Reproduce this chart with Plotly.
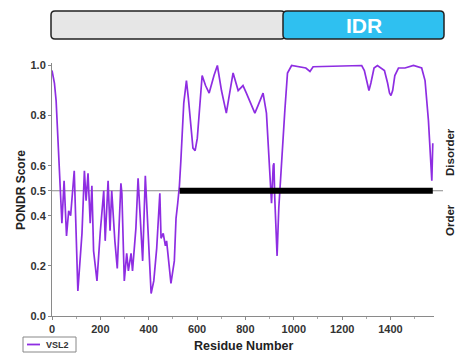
import plotly.graph_objects as go

# VSL2 PONDR disorder prediction
residue = [0, 10, 17, 24, 28, 34, 41, 50, 60, 69, 77, 92, 100, 107, 124, 134, 141, 149,
           158, 165, 172, 186, 200, 214, 220, 232, 240, 247, 260, 270, 285, 289, 299,
           309, 316, 327, 333, 347, 356, 366, 375, 386, 396, 410, 421, 433, 446, 451,
           460, 469, 474, 481, 492, 506, 513, 520, 527, 533, 545, 556, 564, 583, 592,
           601, 621, 635, 650, 670, 684, 701, 721, 740, 749, 770, 790, 804, 825, 839,
           852, 873, 887, 898, 905, 908, 915, 918, 921, 931, 938, 949, 963, 974, 991,
           1050, 1067, 1080, 1281, 1292, 1303, 1311, 1319, 1332, 1346, 1375, 1388,
           1396, 1402, 1409, 1418, 1433, 1460, 1495, 1529, 1543, 1557, 1564, 1571, 1575]
score = [0.98, 0.93, 0.86, 0.72, 0.62, 0.49, 0.37, 0.54, 0.32, 0.42, 0.40, 0.58, 0.30,
         0.10, 0.33, 0.58, 0.46, 0.57, 0.37, 0.52, 0.26, 0.14, 0.34, 0.50, 0.30, 0.54,
         0.34, 0.50, 0.30, 0.19, 0.53, 0.49, 0.14, 0.25, 0.18, 0.25, 0.18, 0.35, 0.55,
         0.35, 0.22, 0.56, 0.35, 0.09, 0.14, 0.27, 0.49, 0.31, 0.33, 0.28, 0.30, 0.24,
         0.13, 0.22, 0.39, 0.45, 0.52, 0.62, 0.85, 0.94, 0.87, 0.67, 0.66, 0.71, 0.96,
         0.92, 0.89, 0.96, 1.00, 0.90, 0.81, 0.92, 0.97, 0.90, 0.92, 0.89, 0.84, 0.81,
         0.84, 0.89, 0.81, 0.62, 0.49, 0.45, 0.60, 0.61, 0.48, 0.24, 0.43, 0.62, 0.82,
         0.97, 1.00, 0.99, 0.976, 0.995, 1.00, 0.98, 0.93, 0.90, 0.93, 0.99, 1.00, 0.98,
         0.93, 0.89, 0.88, 0.90, 0.96, 0.99, 0.99, 1.00, 0.99, 0.94, 0.78, 0.66, 0.54,
         0.69]

idr_start, idr_end = 528, 1575
threshold = 0.5
ytickvals = [0, 0.2, 0.4, 0.5, 0.6, 0.8, 1.0]
yticktext = ["0.0", "0.2", "0.4", "0.5", "0.6", "0.8", "1.0"]
xtickvals = [0, 200, 400, 600, 800, 1000, 1200, 1400]

W, H = 459, 358
L, R, T, B = 52, 25, 63, 42
PW, PH = W - L - R, H - T - B
FONT = "Arial, Liberation Sans, sans-serif"


def px(x):
    return (x - L) / PW


def py(y):
    return (H - B - y) / PH


def rounded(x0, y0, x1, y1, r=4):
    "rounded rectangle path in paper coords from pixel box"
    rx, ry = r / PW, r / PH
    a, b, c, d = px(x0), px(x1), py(y1), py(y0)
    return (f"M{a+rx},{c} L{b-rx},{c} Q{b},{c} {b},{c+ry} L{b},{d-ry} Q{b},{d} {b-rx},{d} "
            f"L{a+rx},{d} Q{a},{d} {a},{d-ry} L{a},{c+ry} Q{a},{c} {a+rx},{c} Z")


def label(text, x, y, size, color="#222", angle=0, xanchor="center"):
    return dict(text=text, x=px(x), y=py(y), xref="paper", yref="paper", showarrow=False,
                textangle=angle, xanchor=xanchor, yanchor="middle",
                font=dict(family=FONT, size=size, color=color))


fig = go.Figure()
fig.add_trace(go.Scatter(x=residue, y=score, mode="lines",
                         line=dict(color="#8E2DE2", width=1.7), name="VSL2"))
fig.add_trace(go.Scatter(x=[idr_start, idr_end], y=[threshold, threshold], mode="lines",
                         line=dict(color="black", width=6), name="IDR"))

shapes = [
    dict(type="line", xref="paper", yref="y", x0=0, x1=px(443), y0=threshold, y1=threshold,
         line=dict(color="#8a8a8a", width=1), layer="below"),
    dict(type="path", xref="paper", yref="paper", path=rounded(51, 11, 285, 39),
         fillcolor="#E6E6E6", line=dict(color="#222", width=1.5)),
    dict(type="path", xref="paper", yref="paper", path=rounded(283, 11, 444, 39),
         fillcolor="#2FC0F0", line=dict(color="#222", width=1.5)),
    # legend box
    dict(type="rect", xref="paper", yref="paper", x0=px(23), x1=px(76), y0=py(352), y1=py(337),
         line=dict(color="#888", width=1), fillcolor="white"),
    dict(type="line", xref="paper", yref="paper", x0=px(27), x1=px(40), y0=py(344.5), y1=py(344.5),
         line=dict(color="#8E2DE2", width=1.8)),
]

annotations = [
    label("<b>IDR</b>", 363.5, 25.5, 21, color="white"),
    label("<b>PONDR Score</b>", 21, 190, 12, angle=-90),
    label("<b>Residue Number</b>", 243, 346, 12.5),
    label("<b>Disorder</b>", 450, 152, 11.5, angle=-90),
    label("<b>Order</b>", 450, 220, 11.5, angle=-90),
    label("<b>VSL2</b>", 44, 344.5, 9, color="#333", xanchor="left"),
]

fig.update_layout(
    width=W, height=H,
    margin=dict(l=L, r=R, t=T, b=B),
    plot_bgcolor="white", paper_bgcolor="white",
    showlegend=False,
    shapes=shapes, annotations=annotations,
    font=dict(family=FONT),
)
fig.update_xaxes(range=[0, 1580], tickvals=xtickvals, showgrid=False, zeroline=False,
                 showline=True, linecolor="#8a8a8a", linewidth=1,
                 ticks="outside", ticklen=3, tickcolor="#8a8a8a",
                 minor=dict(ticks="outside", ticklen=2, dtick=100, tickcolor="#aaa"),
                 tickfont=dict(family=FONT, size=11, color="#333", weight="bold"))
fig.update_yaxes(range=[0, 1.01], tickvals=ytickvals, ticktext=yticktext, showgrid=False,
                 zeroline=False, showline=True, linecolor="#8a8a8a", linewidth=1,
                 ticks="outside", ticklen=3, tickcolor="#8a8a8a",
                 tickfont=dict(family=FONT, size=11, color="#333", weight="bold"))

# page body has a default 8px margin; remove it so the figure sits at the top-left
fig.write_html("out.html", config={"displayModeBar": False},
               post_script="document.body.style.margin='0';")
